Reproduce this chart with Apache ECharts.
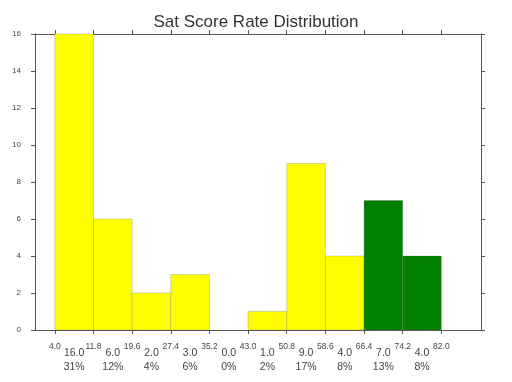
<!DOCTYPE html>
<html>
<head>
<meta charset="utf-8">
<script src="https://cdn.jsdelivr.net/npm/echarts@6/dist/echarts.min.js"></script>
<style>html,body{margin:0;padding:0;background:#fff}#c{width:512px;height:382px}</style>
</head>
<body>
<div id="c"></div>
<script>
const binEdges = [4.0, 11.8, 19.6, 27.4, 35.2, 43.0, 50.8, 58.6, 66.4, 74.2, 82.0];
const counts = [16, 6, 2, 3, 0, 1, 9, 4, 7, 4];
const percentLabels = ['31%', '12%', '4%', '6%', '0%', '2%', '17%', '8%', '13%', '8%'];
const binColors = ['#ffff00', '#ffff00', '#ffff00', '#ffff00', '#ffff00', '#ffff00', '#ffff00', '#ffff00', '#008000', '#008000'];
const yTicks = [0, 2, 4, 6, 8, 10, 12, 14, 16];

const centers = counts.map((c, i) => (binEdges[i] + binEdges[i + 1]) / 2);
const nearestBin = v => {
  let best = 0, d = Infinity;
  centers.forEach((c, i) => { const dd = Math.abs(c - v); if (dd < d) { d = dd; best = i; } });
  return best;
};
const seriesData = counts.map((c, i) => [binEdges[i], binEdges[i + 1], c, i]);

const font = 'Liberation Sans, Arial, sans-serif';
const axisCol = '#555';
const chart = echarts.init(document.getElementById('c'), null, { renderer: 'canvas' });
const hidden = { show: false };
const line = { show: true, onZero: false, lineStyle: { color: axisCol, width: 1 } };
chart.setOption({
  animation: false,
  backgroundColor: '#fff',
  title: {
    text: 'Sat Score Rate Distribution',
    left: 'center', top: 9,
    textStyle: { fontFamily: font, fontSize: 17, fontWeight: 'normal', color: '#333' }
  },
  grid: { left: 35, right: 31, top: 34, bottom: 52, containLabel: false },
  xAxis: [
    {
      type: 'value', position: 'bottom', min: 0, max: 90,
      splitLine: hidden,
      axisLine: line,
      axisTick: { show: true, inside: false, length: 4, customValues: binEdges, lineStyle: { color: axisCol } },
      axisLabel: {
        show: true, customValues: binEdges, margin: 12, align: 'center',
        fontFamily: font, fontSize: 8.5, color: '#444', lineHeight: 10,
        formatter: v => v.toFixed(1)
      }
    },
    {
      type: 'value', position: 'top', min: 0, max: 90,
      splitLine: hidden,
      axisLine: line,
      axisTick: { show: true, inside: false, length: 4, customValues: binEdges, lineStyle: { color: axisCol } },
      axisLabel: hidden
    },
    {
      type: 'value', position: 'bottom', min: 0, max: 90,
      splitLine: hidden, axisLine: { show: false, onZero: false }, axisTick: hidden,
      axisLabel: {
        show: true, customValues: centers, margin: 17,
        fontFamily: font, fontSize: 10.5, color: '#444', lineHeight: 12,
        formatter: v => counts[nearestBin(v)].toFixed(1)
      }
    },
    {
      type: 'value', position: 'bottom', min: 0, max: 90,
      splitLine: hidden, axisLine: { show: false, onZero: false }, axisTick: hidden,
      axisLabel: {
        show: true, customValues: centers, margin: 31,
        fontFamily: font, fontSize: 10.5, color: '#444', lineHeight: 12,
        formatter: v => percentLabels[nearestBin(v)]
      }
    }
  ],
  yAxis: [
    {
      type: 'value', position: 'left', min: 0, max: 16, interval: 2,
      splitLine: hidden,
      axisLine: line,
      axisTick: { show: true, inside: false, length: 4, lineStyle: { color: axisCol } },
      axisLabel: { show: true, margin: 14, fontFamily: font, fontSize: 8, color: '#444', customValues: yTicks }
    },
    {
      type: 'value', position: 'right', min: 0, max: 16, interval: 2,
      splitLine: hidden,
      axisLine: line,
      axisTick: { show: true, inside: false, length: 4, lineStyle: { color: axisCol } },
      axisLabel: hidden
    }
  ],
  series: [{
    type: 'custom',
    xAxisIndex: 0, yAxisIndex: 0,
    data: seriesData,
    encode: { x: [0, 1], y: 2 },
    renderItem: (params, api) => {
      const s = api.value(0), e = api.value(1), c = api.value(2), idx = api.value(3);
      if (!c) return null;
      const p0 = api.coord([s, c]);
      const p1 = api.coord([e, 0]);
      return {
        type: 'rect',
        shape: { x: p0[0], y: p0[1], width: p1[0] - p0[0], height: p1[1] - p0[1] },
        style: { fill: binColors[idx], stroke: 'rgba(110,110,110,0.35)', lineWidth: 0.8 }
      };
    }
  }]
});
</script>
</body>
</html>
